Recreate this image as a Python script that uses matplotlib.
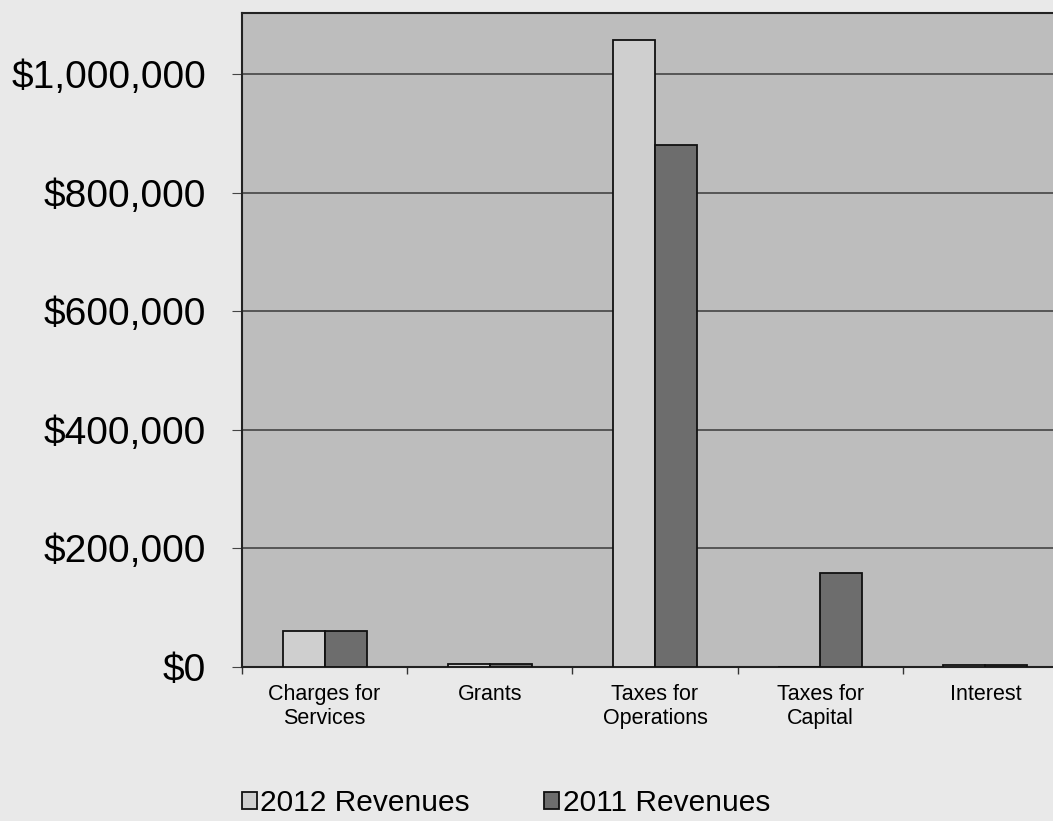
import matplotlib
matplotlib.use("Agg")
import matplotlib.pyplot as plt
import numpy as np
from matplotlib.ticker import FuncFormatter, MultipleLocator, FixedLocator

categories = ["Charges for\nServices", "Grants", "Taxes for\nOperations", "Taxes for\nCapital", "Interest"]
rev_2012 = [60000, 5000, 1058000, 0, 4000]
rev_2011 = [60000, 5000, 880000, 158000, 4000]
series_labels = ["2012 Revenues", "2011 Revenues"]

plt.rcParams['font.family'] = ['Liberation Sans', 'DejaVu Sans']

fig = plt.figure(figsize=(10.53, 8.21), dpi=100)
fig.patch.set_facecolor('#e9e9e9')

ax = fig.add_axes([242/1053, 1-667/821, (1068-242)/1053, (667-13)/821])
ax.set_facecolor('#bdbdbd')

x = np.arange(len(categories))
w = 0.254
b1 = ax.bar(x - w/2, rev_2012, w, color='#cfcfcf', edgecolor='#111111', linewidth=1.3,
            label=series_labels[0], zorder=3)
b2 = ax.bar(x + w/2, rev_2011, w, color='#6d6d6d', edgecolor='#111111', linewidth=1.3,
            label=series_labels[1], zorder=3)

ax.set_xlim(-0.5, len(categories) - 0.5)
ax.set_ylim(0, 1103000)
ax.yaxis.set_major_locator(MultipleLocator(200000))
ax.yaxis.set_major_formatter(FuncFormatter(lambda v, p: f"${v:,.0f}"))
ax.grid(axis='y', color='#3a3a3a', linewidth=1.1, zorder=1)

ax.set_xticks(x)
ax.set_xticklabels(categories, fontsize=15.5, linespacing=1.2)
ax.xaxis.set_minor_locator(FixedLocator(np.arange(-0.5, len(categories), 1.0)))
ax.tick_params(axis='x', which='major', length=0, pad=12)
ax.tick_params(axis='x', which='minor', length=5, width=1, color='#333333')
ax.tick_params(axis='y', which='major', labelsize=28, length=7, width=0.8, color='#444444', pad=19)

for s in ['left', 'bottom', 'top']:
    ax.spines[s].set_color('#222222')
    ax.spines[s].set_linewidth(1.5)
ax.spines['right'].set_visible(False)

leg = fig.legend(handles=[b1, b2], labels=series_labels, loc='center',
                 bbox_to_anchor=(506/1053, 1-803/821), ncol=2, frameon=False,
                 fontsize=21.5, handlelength=0.5, handleheight=0.5, handletextpad=0.12,
                 columnspacing=2.5)

fig.savefig("out.png", dpi=100, facecolor=fig.get_facecolor())
